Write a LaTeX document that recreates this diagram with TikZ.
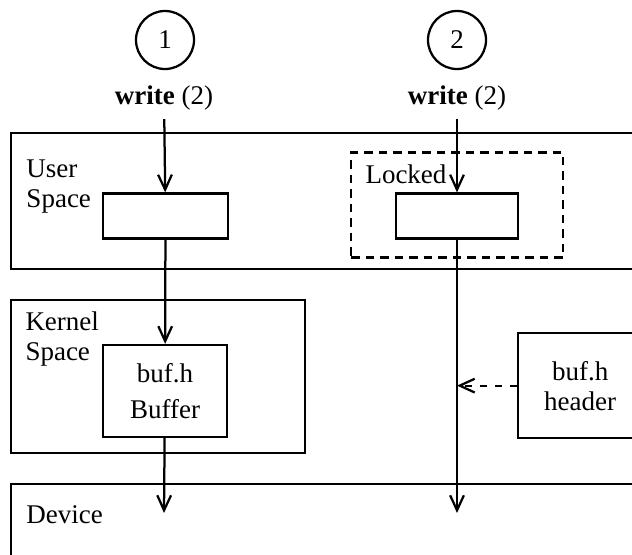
\documentclass[tikz,border=0pt]{standalone}
\usepackage{fontspec}
\setmainfont{Liberation Serif}
\usepackage{tikz}
\usetikzlibrary{positioning,arrows.meta}

\tikzset{
  proc/.style={circle,draw,line width=0.9pt,minimum size=23.2pt,inner sep=0pt},
  region/.style={draw,line width=0.9pt,anchor=north west,inner sep=0pt},
  bufbox/.style={draw,line width=0.9pt,inner sep=0pt,align=center},
  lbl/.style={inner sep=0pt,align=left,anchor=west},
  flow/.style={-{Straight Barb[length=6pt,width=5.5pt]},line width=0.9pt},
}

\begin{document}
\begin{tikzpicture}[x=0.4pt,y=-0.4pt,font=\fontsize{10.8pt}{12pt}\selectfont]
    \clip (0,0) rectangle (632,554);

    % the three layers
    \node[region,minimum width=276pt,minimum height=54.4pt] (user) at (10,132) {};
    \node[region,minimum width=117.6pt,minimum height=61.2pt] (kernel) at (10,299) {};
    \node[region,minimum width=276pt,minimum height=48pt] (dev) at (10,483) {};
    \node[lbl] (userlbl) at (26,187) {User\\Space};
    \node[lbl] (kernlbl) at (25,339) {Kernel\\Space};
    \node[lbl] (devlbl) at (26,515) {Device};

    % the two processes
    \node[proc] (P1) at (165,40) {1};
    \node[proc] (P2) at (457,40) {2};
    \node (w1) at (164,98) {\textbf{write} (2)};
    \node (w2) at (457,98) {\textbf{write} (2)};

    % user buffers
    \node[bufbox,minimum width=50pt,minimum height=18pt] (ub1) at (165.5,216) {};
    \node[bufbox,minimum width=48.8pt,minimum height=18pt] (ub2) at (457,216) {};
    \node[draw,line width=0.9pt,dash pattern=on 3.4pt off 2.4pt,
          minimum width=84.8pt,minimum height=42pt] (lock) at (457,205) {};
    \node[lbl] (locklbl) at (365,174) {Locked};

    % kernel buffer and header
    \node[bufbox,minimum width=49.6pt,minimum height=36.8pt] (buffer) at (165,391)
        {buf.h\\[2.5pt]Buffer};
    \node[region,minimum width=49.6pt,minimum height=42pt] (hdr) at (517,332) {};
    \node[align=center] (hdrlbl) at (hdr.center) {buf.h\\header};

    \coordinate (d1) at (164,513);
    \coordinate (d2) at (457,513);

    \draw[flow] (w1) -- (ub1);
    \draw[flow] (ub1) -- (buffer);
    \draw[flow] (buffer) -- (d1);
    \draw[flow] (w2) -- (ub2);
    \draw[flow] (ub2) -- (d2);
    \draw[flow,dashed] (hdr.west) -- (ub2.south |- hdr.west);
\end{tikzpicture}
\end{document}
